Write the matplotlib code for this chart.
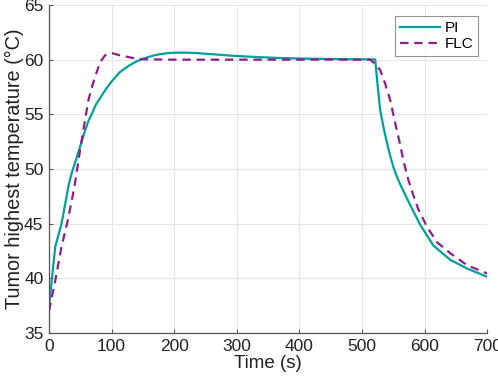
import matplotlib
matplotlib.use("Agg")
import matplotlib.pyplot as plt

plt.rcParams['font.family'] = ['Liberation Sans', 'DejaVu Sans']

pi_t = [0, 10, 20, 31, 36, 44, 50, 57, 63, 68, 75, 84, 92, 100, 113, 129, 140, 151, 165, 177,
        190, 204, 220, 236, 260, 290, 321, 360, 400, 450, 521,
        525, 529, 534, 539, 545, 550, 555, 561, 571, 577, 593, 614, 641, 668, 700]
pi_T = [37.4, 42.9, 45.0, 48.4, 49.6, 51.0, 52.1, 53.4, 54.4, 55.0, 55.9, 56.7, 57.4, 58.0, 58.85, 59.5, 59.85, 60.1, 60.35, 60.5,
        60.6, 60.64, 60.64, 60.6, 60.5, 60.37, 60.27, 60.17, 60.1, 60.06, 60.02,
        57.6, 55.4, 53.9, 52.6, 51.2, 50.2, 49.4, 48.6, 47.4, 46.7, 44.9, 43.0, 41.7, 40.9, 40.15]

flc_t = [0, 10, 20, 30, 39, 41.5, 49.5, 57, 63, 68, 73.5, 81.5, 89.5, 100, 113, 124, 137, 151, 200, 300, 400, 513,
         521, 529, 537, 545, 553, 561, 566, 574, 582, 590, 604, 620, 641, 668, 700]
flc_T = [37.0, 39.8, 42.9, 45.3, 47.9, 48.7, 51.7, 54.3, 56.3, 57.4, 58.4, 59.75, 60.4, 60.6, 60.4, 60.27, 60.12, 60.03, 60.0, 60.0, 60.0, 60.0,
         59.6, 59.05, 57.8, 56.3, 54.2, 52.2, 50.8, 49.0, 47.6, 46.3, 44.7, 43.3, 42.3, 41.2, 40.45]

x_ticks = [0, 100, 200, 300, 400, 500, 600, 700]
y_ticks = [35, 40, 45, 50, 55, 60, 65]

fig = plt.figure(figsize=(4.98, 3.82), dpi=100)
ax = fig.add_axes([0.0984, 0.128, 0.88, 0.859])

ax.plot(pi_t, pi_T, color='#00A19B', lw=1.6, label='PI')
ax.plot(flc_t, flc_T, color='#8E1E8E', lw=1.6, ls=(0, (3.8, 2.6)), label='FLC')

ax.set_xlim(0, 700)
ax.set_ylim(35, 65)
ax.set_xticks(x_ticks)
ax.set_yticks(y_ticks)
ax.grid(True, color='#E6E6E6', lw=0.8)
ax.set_axisbelow(True)
for s in ['top', 'right']:
    ax.spines[s].set_visible(False)
for s in ['left', 'bottom']:
    ax.spines[s].set_color('#555555')
    ax.spines[s].set_linewidth(0.9)
ax.tick_params(direction='in', length=3, colors='#555555', labelcolor='#222222', labelsize=12.5, pad=4)

ax.set_xlabel('Time (s)', fontsize=13.5, color='#222222', labelpad=1)
ax.set_ylabel('Tumor highest temperature (°C)', fontsize=14.3, color='#222222', labelpad=0)

leg = ax.legend(loc='upper right', bbox_to_anchor=(0.978, 0.965), fontsize=11, frameon=True,
                fancybox=False, edgecolor='#777777', handlelength=2.6, borderpad=0.3,
                labelspacing=0.15, handletextpad=0.3, borderaxespad=0)
leg.get_frame().set_linewidth(0.8)

fig.savefig('out.png', dpi=100)
